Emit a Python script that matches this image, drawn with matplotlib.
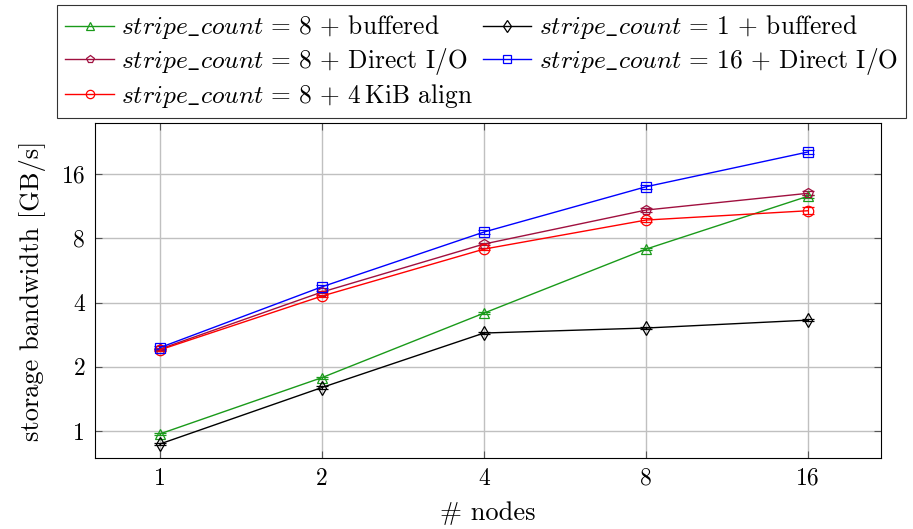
import matplotlib
matplotlib.use("Agg")
import matplotlib.pyplot as plt
from matplotlib.lines import Line2D

plt.rcParams['font.family'] = 'serif'
plt.rcParams['font.serif'] = ['cmr10', 'DejaVu Serif']
plt.rcParams['mathtext.fontset'] = 'cm'
plt.rcParams['axes.formatter.use_mathtext'] = True

nodes = [1, 2, 4, 8, 16]
s8_buffered = [0.97, 1.78, 3.57, 7.12, 12.6]
s1_buffered = [0.87, 1.60, 2.88, 3.04, 3.31]
s8_direct = [2.42, 4.48, 7.52, 10.85, 13.0]
s16_direct = [2.46, 4.74, 8.56, 13.95, 20.3]
s8_align = [2.40, 4.29, 7.12, 9.74, 10.77]

err_s8_buffered = [0.01, 0.02, 0.03, 0.05, 0.2]
err_s1_buffered = [0.01, 0.02, 0.03, 0.04, 0.03]
err_s8_direct = [0.03, 0.06, 0.1, 0.2, 0.3]
err_s16_direct = [0.04, 0.08, 0.15, 0.3, 0.5]
err_s8_align = [0.03, 0.06, 0.1, 0.2, 0.4]

labels = [r'$stripe\_count\,=\,8$ + buffered',
          r'$stripe\_count\,=\,8$ + Direct I/O',
          r'$stripe\_count\,=\,8$ + 4$\,$KiB align',
          r'$stripe\_count\,=\,1$ + buffered',
          r'$stripe\_count\,=\,16$ + Direct I/O']

series = [
    (s8_buffered, err_s8_buffered, '#1a9a1a', '^'),
    (s8_direct, err_s8_direct, '#a0103f', 'p'),
    (s8_align, err_s8_align, '#ff0000', 'o'),
    (s1_buffered, err_s1_buffered, '#000000', 'd'),
    (s16_direct, err_s16_direct, '#0000ff', 's'),
]

fig = plt.figure(figsize=(9.13, 5.29), dpi=100)
ax = fig.add_axes([0.104, 0.134, 0.861, 0.633])

handles = []
for (vals, errs, col, mk), lab in zip(series, labels):
    ax.errorbar(nodes, vals, yerr=errs, color=col, marker=mk, markersize=7.5,
                markerfacecolor='none', markeredgecolor=col, markeredgewidth=0.9,
                linewidth=1.0, elinewidth=0.8, capsize=4, capthick=0.8)
    handles.append(Line2D([], [], color=col, marker=mk, markersize=6,
                          markerfacecolor='none', markeredgecolor=col,
                          markeredgewidth=0.9, linewidth=1.0))

ax.set_xscale('log', base=2)
ax.set_yscale('log', base=2)
ax.set_xlim(2 ** -0.4, 2 ** 4.45)
ax.set_ylim(2 ** -0.42, 2 ** 4.79)
ax.set_xticks(nodes)
ax.set_xticklabels([str(n) for n in nodes])
ax.set_yticks([1, 2, 4, 8, 16])
ax.set_yticklabels(['1', '2', '4', '8', '16'])
ax.minorticks_off()
ax.grid(True, color='#c0c0c0', linewidth=1.0)
ax.set_axisbelow(True)
ax.tick_params(direction='in', top=True, right=True, labelsize=17, length=5,
               color='#555555', pad=7)
for sp in ax.spines.values():
    sp.set_linewidth(0.8)
ax.set_xlabel('# nodes', fontsize=19, labelpad=8)
ax.set_ylabel('storage bandwidth [GB/s]', fontsize=19, labelpad=11)

leg = fig.legend(handles, labels, ncol=2, loc='upper left',
                 bbox_to_anchor=(0.0624, 0.9905), fontsize=18.3, frameon=True,
                 fancybox=False, edgecolor='black', handlelength=1.9,
                 handletextpad=0.3, columnspacing=0.4, borderpad=0.33,
                 labelspacing=0.18, borderaxespad=0)
leg.get_frame().set_linewidth(0.8)

fig.savefig('out.png', dpi=100)
